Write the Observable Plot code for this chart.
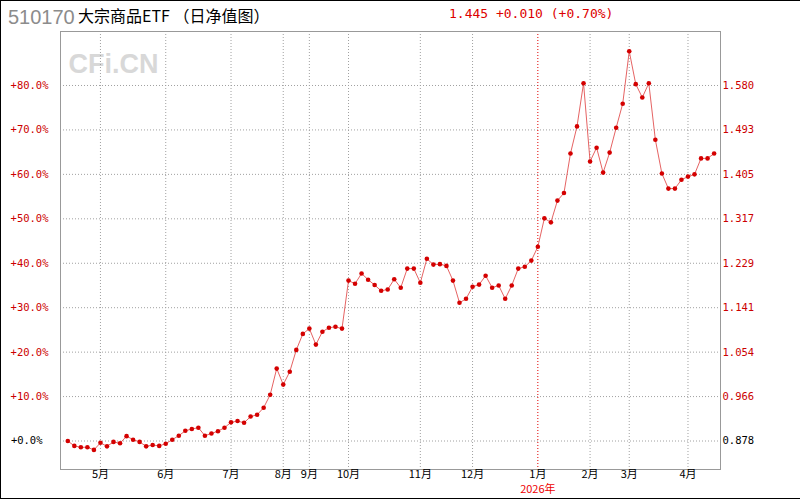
<!DOCTYPE html>
<html>
<head>
<meta charset="utf-8">
<script src="https://cdn.jsdelivr.net/npm/d3@7"></script>
<script src="https://cdn.jsdelivr.net/npm/@observablehq/plot@0.6"></script>
<style>
  html, body { margin: 0; padding: 0; background: #fff; }
  #wrap { position: relative; width: 800px; height: 500px; overflow: hidden; background: #fff; }
  #wrap svg { position: absolute; left: 0; top: 0; }
  .ov { position: absolute; white-space: nowrap; }
  #border { position: absolute; left: 0; top: 0; width: 800px; height: 499px; box-sizing: border-box;
            border-left: 1px solid #000; border-top: 1px solid #000; border-bottom: 1px solid #000; pointer-events: none; }
</style>
</head>
<body>
<div id="wrap">
  <div id="border"></div>
</div>
<script>
// Percent change from base NAV (0.878), one value per sample
const pct = [
  0.0, -1.1, -1.4, -1.4, -2.0, -0.4, -1.2, -0.2, -0.5, 1.1,
  0.3, -0.2, -1.2, -0.9, -1.1, -0.6, 0.3, 1.2, 2.3, 2.7,
  3.0, 1.2, 1.7, 2.2, 3.0, 4.2, 4.5, 4.1, 5.5, 5.9,
  7.5, 10.4, 16.3, 12.7, 15.6, 20.5, 24.1, 25.3, 21.7, 24.6,
  25.5, 25.7, 25.3, 36.1, 35.4, 37.7, 36.3, 35.1, 33.8, 34.1,
  36.4, 34.5, 38.8, 38.8, 35.6, 41.0, 39.7, 39.8, 39.4, 36.1,
  31.1, 32.0, 34.7, 35.2, 37.2, 34.5, 35.0, 32.0, 35.0, 38.8,
  39.2, 40.6, 43.7, 50.1, 49.2, 54.1, 55.8, 64.7, 70.8, 80.5,
  62.9, 66.0, 60.4, 64.9, 70.5, 75.9, 87.7, 80.3, 77.3, 80.5,
  67.8, 60.2, 56.8, 56.8, 58.8, 59.5, 60.0, 63.6, 63.6, 64.7
];
const yTicks = [0, 10, 20, 30, 40, 50, 60, 70, 80];
const leftLabels = ["+0.0%", "+10.0%", "+20.0%", "+30.0%", "+40.0%", "+50.0%", "+60.0%", "+70.0%", "+80.0%"];
const rightLabels = ["0.878", "0.966", "1.054", "1.141", "1.229", "1.317", "1.405", "1.493", "1.580"];
const months = ["5月", "6月", "7月", "8月", "9月", "10月", "11月", "12月", "1月", "2月", "3月", "4月"];
const monthIdx = [5, 15, 25, 33, 37, 43, 54, 62, 72, 80, 86, 95];
const yearIdx = 72;
const yearLabel = "2026年";
const titleCode = "510170";
const titleName = "大宗商品ETF （日净值图）";
const quote = "1.445 +0.010 (+0.70%)";

const data = pct.map((v, i) => ({i, v}));
const red = "#cc0000";
const tickFont = "DejaVu Sans Mono";

const chart = Plot.plot({
  width: 800,
  height: 500,
  marginLeft: 60,
  marginRight: 80,
  marginTop: 31,
  marginBottom: 31,
  style: {background: "transparent", overflow: "visible"},
  x: {domain: [-1.12, 99.98], axis: null},
  y: {domain: [-6.41, 92.15], axis: null},
  marks: [
    Plot.text(["CFi.CN"], {frameAnchor: "top-left", dx: 8, dy: 22, text: d => d, fill: "#d8d8d8",
      fontSize: 27, fontWeight: "bold", fontFamily: "Liberation Sans", textAnchor: "start", lineAnchor: "top"}),
    Plot.ruleY(yTicks, {stroke: "#a0a0a0", strokeDasharray: "1,2"}),
    Plot.ruleX(monthIdx.filter(d => d !== yearIdx), {stroke: "#a0a0a0", strokeDasharray: "1,2"}),
    Plot.ruleX([yearIdx], {stroke: "#e00000", strokeDasharray: "1,2"}),
    Plot.frame({stroke: "#999"}),
    Plot.line(data, {x: "i", y: "v", stroke: "#e04848", strokeWidth: 1, strokeOpacity: 0.85}),
    Plot.dot(data, {x: "i", y: "v", r: 2.3, fill: "#d40000", stroke: "none"}),
    Plot.text(yTicks.filter(d => d !== 0), {y: d => d, text: d => leftLabels[yTicks.indexOf(d)], frameAnchor: "left",
      dx: -12, textAnchor: "end", fill: red, fontSize: 10.5, fontFamily: tickFont}),
    Plot.text([0], {y: d => d, text: d => leftLabels[0], frameAnchor: "left",
      dx: -18, textAnchor: "end", fill: "#000", fontSize: 10.5, fontFamily: tickFont}),
    Plot.text(yTicks.filter(d => d !== 0), {y: d => d, text: d => rightLabels[yTicks.indexOf(d)], frameAnchor: "right",
      dx: 2, textAnchor: "start", fill: red, fontSize: 10.5, fontFamily: tickFont}),
    Plot.text([0], {y: d => d, text: d => rightLabels[0], frameAnchor: "right",
      dx: 2, textAnchor: "start", fill: "#000", fontSize: 10.5, fontFamily: tickFont}),
    Plot.text(monthIdx, {x: d => d, text: d => months[monthIdx.indexOf(d)], frameAnchor: "bottom",
      dy: 8, fill: "#000", fontSize: 11, fontFamily: "Noto Sans CJK SC"}),
    Plot.text([yearIdx], {x: d => d, text: () => yearLabel, frameAnchor: "bottom",
      dy: 23, fill: "#ee0000", fontSize: 11, fontFamily: "Noto Sans CJK SC"})
  ]
});
const wrap = document.getElementById("wrap");
wrap.insertBefore(chart, wrap.firstChild);

function addText(txt, left, top, css) {
  const d = document.createElement("div");
  d.className = "ov";
  d.textContent = txt;
  d.style.left = left + "px";
  d.style.top = top + "px";
  Object.assign(d.style, css);
  wrap.appendChild(d);
}
addText(titleCode, 8, 5, {fontFamily: "Liberation Sans", fontSize: "20px", color: "#8c8c8c", lineHeight: "24px"});
addText(titleName, 78, 5, {fontFamily: "Noto Sans CJK SC", fontSize: "16px", color: "#000", lineHeight: "20px"});
addText(quote, 449, 5, {fontFamily: "DejaVu Sans Mono", fontSize: "13px", color: "#dd0000", lineHeight: "18px"});
</script>
</body>
</html>
